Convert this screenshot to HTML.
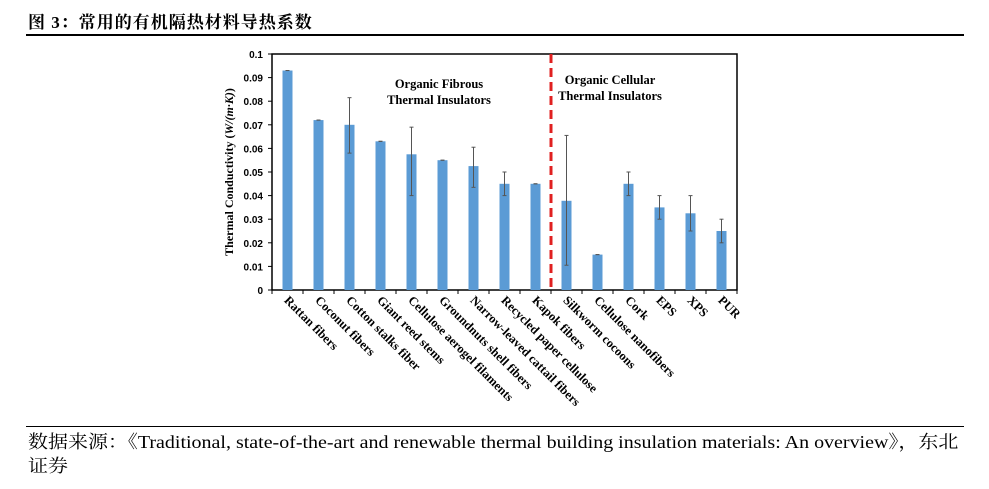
<!DOCTYPE html>
<html><head><meta charset="utf-8"><style>
body{margin:0;width:989px;height:489px;background:#fff;overflow:hidden;font-family:"Liberation Serif","Noto Serif CJK SC",serif}
</style></head><body>
<div style="position:absolute;left:28px;top:8px;font-size:17px;font-weight:bold;font-family:'Liberation Serif','Noto Serif CJK SC',serif;letter-spacing:1px">图 3：常用的有机隔热材料导热系数</div>
<div style="position:absolute;left:26px;top:34px;width:938px;height:2px;background:#000"></div>
<svg width="989" height="489" style="position:absolute;left:0;top:0" xmlns="http://www.w3.org/2000/svg" id="chart"></svg>
<div style="position:absolute;left:26px;top:426px;width:938px;height:1px;background:#000"></div>
<div style="position:absolute;left:28px;top:430px;font-size:18px;line-height:24px;white-space:nowrap;transform-origin:0 0;transform:scaleX(1.11)">数据来源：《Traditional, state-of-the-art and renewable thermal building insulation materials: An overview》，东北<br>证券</div>
<script>
const categories=["Rattan fibers","Coconut fibers","Cotton stalks fiber","Giant reed stems","Cellulose aerogel filaments","Groundnuts shell fibers","Narrow-leaved cattail fibers","Recycled paper cellulose","Kapok fibers","Silkworm cocoons","Cellulose nanofibers","Cork","EPS","XPS","PUR"];
const values=[0.093,0.072,0.070,0.063,0.0575,0.055,0.0525,0.045,0.045,0.0378,0.015,0.045,0.035,0.0325,0.025];
const errLow=[0.093,0.072,0.058,0.063,0.040,0.055,0.0435,0.040,0.045,0.0105,0.015,0.040,0.030,0.025,0.020];
const errHigh=[0.093,0.072,0.0815,0.063,0.069,0.055,0.0605,0.050,0.045,0.0655,0.015,0.050,0.040,0.040,0.030];
const yTicks=[0,0.01,0.02,0.03,0.04,0.05,0.06,0.07,0.08,0.09,0.1];
const yTickLabels=["0","0.01","0.02","0.03","0.04","0.05","0.06","0.07","0.08","0.09","0.1"];
const dividerAfter=9;
const svg=document.getElementById('chart');const NS='http://www.w3.org/2000/svg';
const L=272,R=737,T=54,B=290;
const step=(R-L)/categories.length;
const y=v=>B-(v/0.1)*(B-T);
const x=i=>L+step*(i+0.5);
function mk(t,a){const e=document.createElementNS(NS,t);for(const k in a)e.setAttribute(k,a[k]);svg.appendChild(e);return e;}
let box=mk('rect',{x:L,y:T,width:R-L,height:B-T,fill:'none',stroke:'#000','stroke-width':1.5});


yTicks.forEach((v,i)=>{
  const t=mk('line',{x1:L-4,x2:L,y1:y(v),y2:y(v),stroke:'#000'});
  
  
  const tx=mk('text',{x:L-9,y:y(v)+4,'text-anchor':'end','font-size':10,'font-weight':'bold','font-family':'Liberation Sans,sans-serif'});
  tx.textContent=yTickLabels[i];
  
  
});
for(let i=0;i<=categories.length;i++){
  const t=mk('line',{x1:L+step*i,x2:L+step*i,y1:B,y2:B+4,stroke:'#000'});
  
  
}
categories.forEach((c,i)=>{
  const b=mk('rect',{x:x(i)-5,y:y(values[i]),width:10,height:B-y(values[i]),fill:'#5b9bd5'});
  
  
  const e=mk('line',{x1:x(i),x2:x(i),y1:y(errHigh[i]),y2:y(errLow[i]),stroke:'#555','stroke-width':1});
  
  
  [errHigh[i],errLow[i]].forEach(v=>{const c2=mk('line',{x1:x(i)-2,x2:x(i)+2,y1:y(v),y2:y(v),stroke:'#555'});
    
    });
  const lx=x(i)-4,ly=B+11;
  const lb=mk('text',{x:lx,y:ly,'font-size':12.5,'font-weight':'bold','font-family':'Liberation Serif,serif',transform:`rotate(45 ${lx} ${ly})`});
  lb.textContent=c;
  
  
});
const dx=L+step*dividerAfter;
const d=mk('line',{x1:dx,x2:dx,y1:T,y2:B,stroke:'#e02020','stroke-width':3,'stroke-dasharray':'9,5'});


function txt(s,xx,yy,name){const t=mk('text',{x:xx,y:yy,'text-anchor':'middle','font-size':12.5,'font-weight':'bold','font-family':'Liberation Serif,serif'});t.textContent=s;
 
 }
txt('Organic Fibrous',439,88,'group-label-fibrous');txt('Thermal Insulators',439,104,'group-label-fibrous-2');
txt('Organic Cellular',610,84,'group-label-cellular');txt('Thermal Insulators',610,100,'group-label-cellular-2');
const yt=mk('text',{x:0,y:0,'text-anchor':'middle','font-size':12,'font-weight':'bold','font-family':'Liberation Serif,serif',transform:`translate(233 ${(T+B)/2}) rotate(-90)`});
yt.innerHTML='Thermal Conductivity (<tspan font-style="italic">W/(m·K)</tspan>)';


</script>
</body></html>
